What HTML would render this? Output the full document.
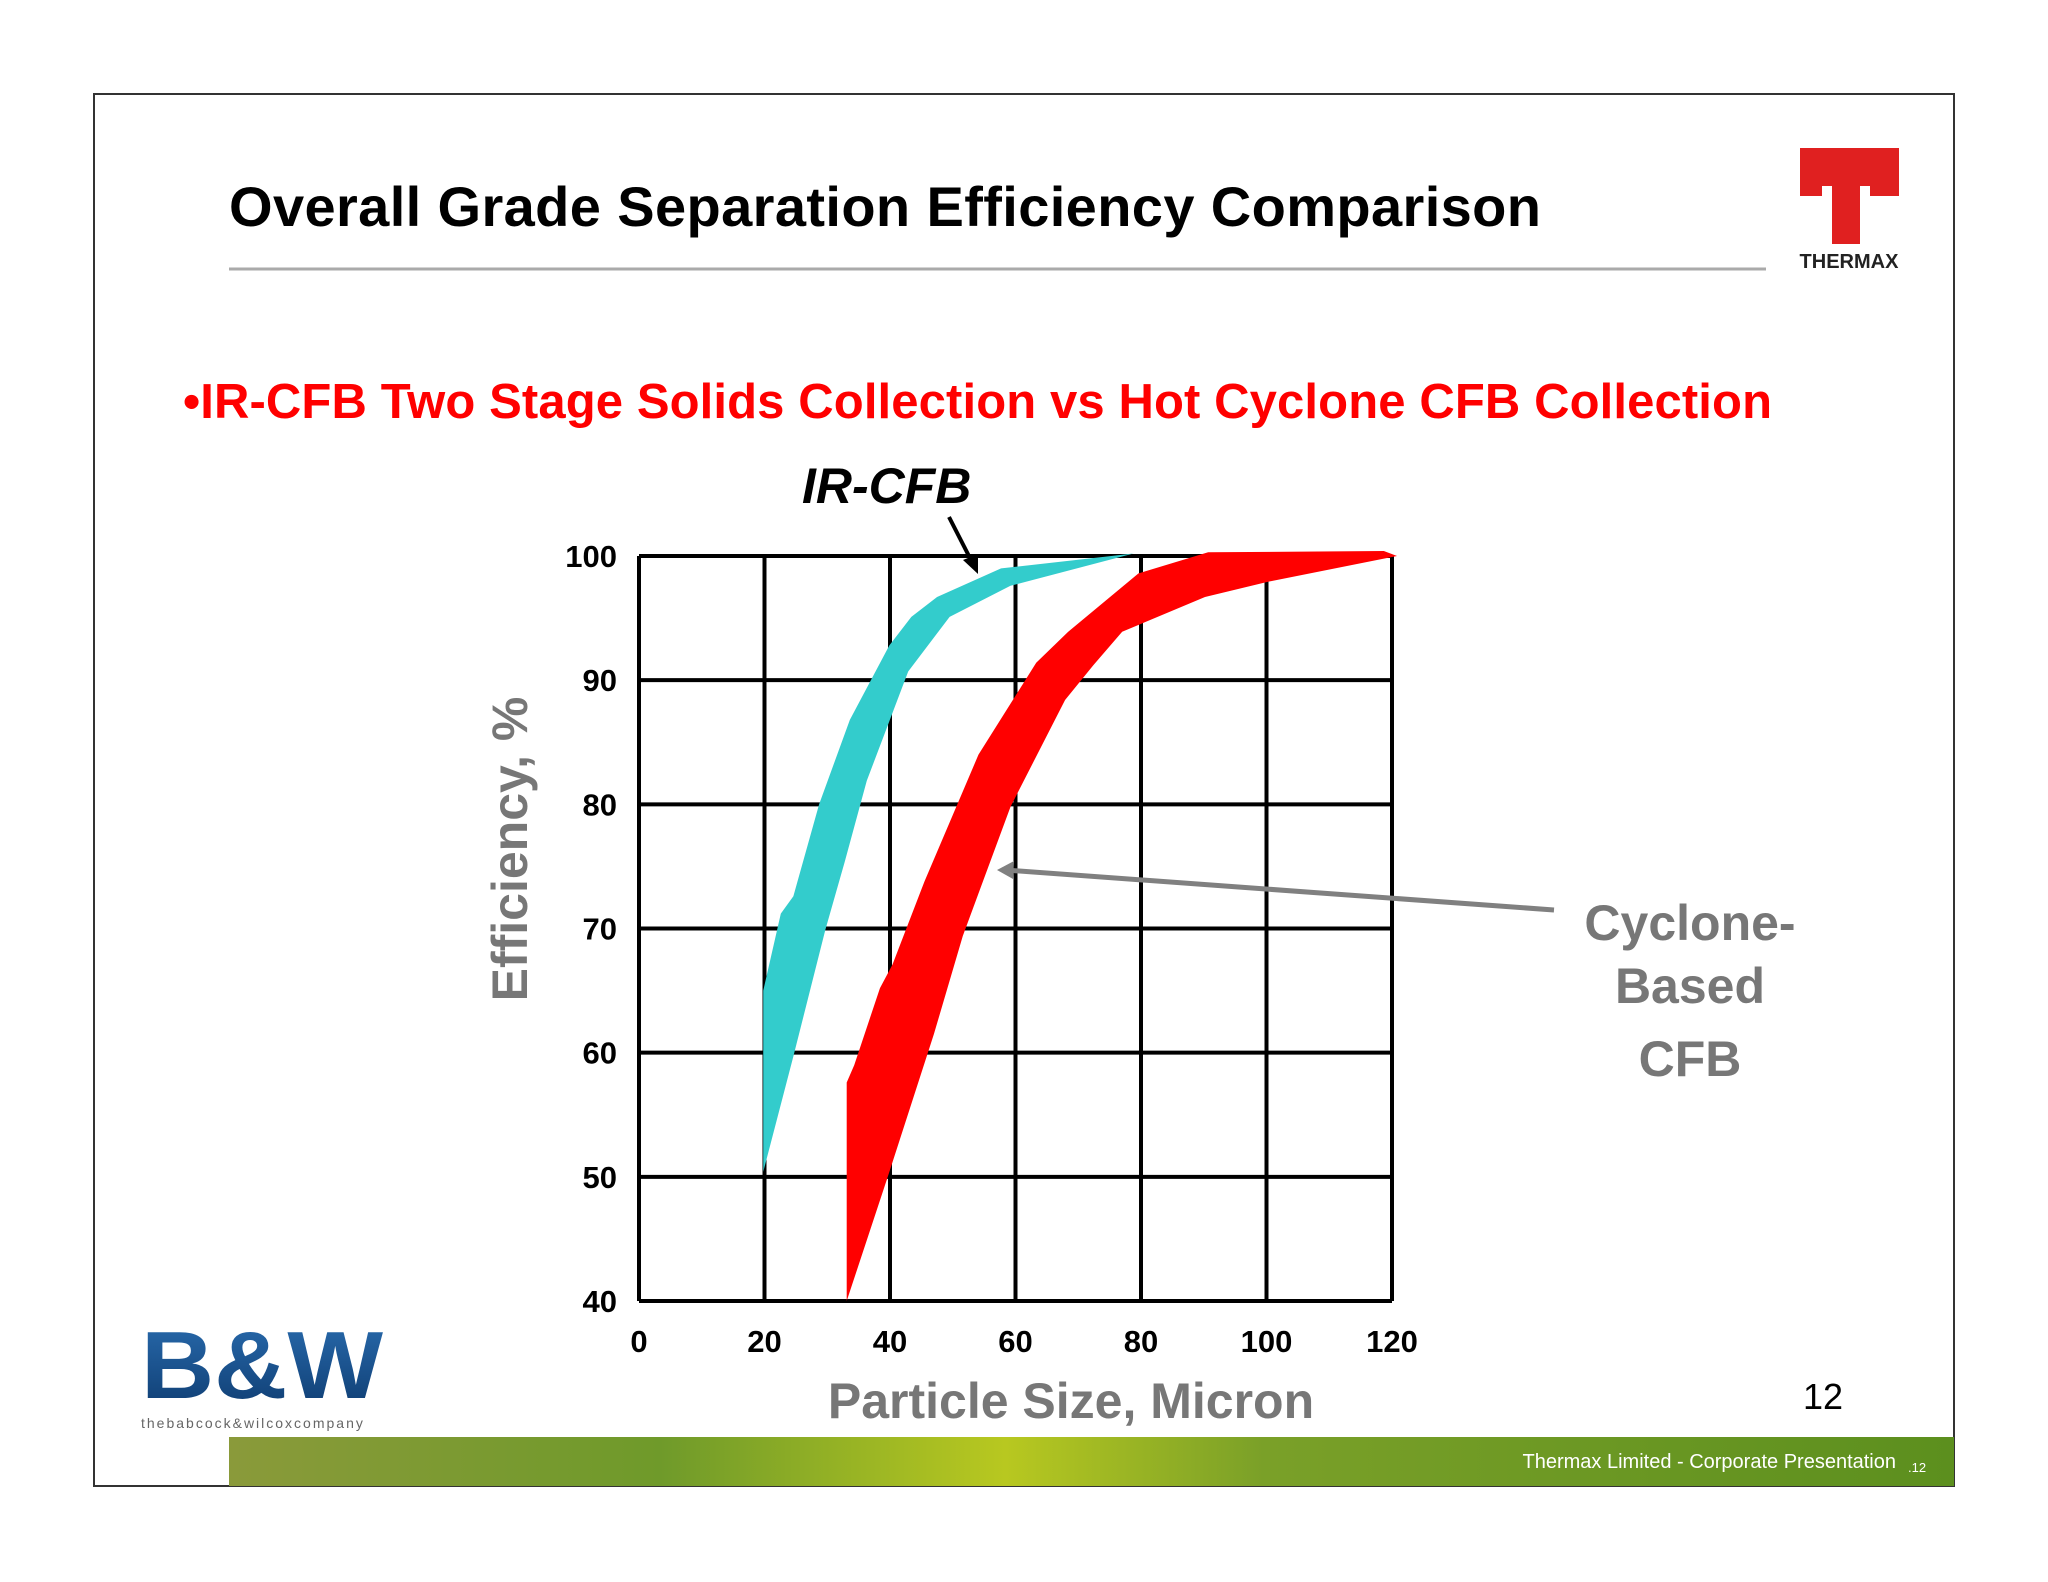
<!DOCTYPE html>
<html><head><meta charset="utf-8"><style>
html,body{margin:0;padding:0;background:#fff}
svg{display:block;font-family:"Liberation Sans",Arial,sans-serif}
</style></head><body>
<svg width="2048" height="1582" viewBox="0 0 2048 1582">
<defs>
<linearGradient id="band" x1="0" x2="1" y1="0" y2="0">
<stop offset="0" stop-color="#8a9a3a"/><stop offset="0.25" stop-color="#6f9a2a"/><stop offset="0.45" stop-color="#b8c820"/><stop offset="0.6" stop-color="#7aa028"/><stop offset="1" stop-color="#5c8f1e"/>
</linearGradient>
<linearGradient id="bw" x1="0" x2="0" y1="0" y2="1"><stop offset="0" stop-color="#2a6db0"/><stop offset="1" stop-color="#0d3a6e"/></linearGradient>
</defs>
<rect x="94" y="94" width="1860" height="1392" fill="#fff" stroke="#333" stroke-width="2"/>
<text x="229" y="226" font-size="56" font-weight="bold" fill="#000" textLength="1312">Overall Grade Separation Efficiency Comparison</text>
<line x1="229" y1="269" x2="1766" y2="269" stroke="#aaa" stroke-width="3"/>
<g>
<rect x="1800" y="148" width="99" height="38" fill="#e02020"/>
<rect x="1832" y="148" width="28" height="96" fill="#e02020"/>
<rect x="1800" y="148" width="22" height="48" fill="#e02020"/>
<rect x="1870" y="148" width="29" height="48" fill="#e02020"/>
<text x="1849" y="268" font-size="20" font-weight="bold" text-anchor="middle" fill="#222">THERMAX</text>
</g>
<text x="183" y="418" font-size="49" font-weight="bold" fill="#f00" textLength="1589">•IR-CFB Two Stage Solids Collection vs Hot Cyclone CFB Collection</text>
<text x="802" y="503" font-size="50" font-weight="bold" font-style="italic" fill="#000">IR-CFB</text>
<g id="chart"></g>
<text transform="translate(527,849) rotate(-90)" font-size="50" font-weight="bold" fill="#777" text-anchor="middle">Efficiency, %</text>
<text x="1071" y="1418" font-size="50" font-weight="bold" fill="#777" text-anchor="middle">Particle Size, Micron</text>
<g font-size="50" font-weight="bold" fill="#777" text-anchor="middle">
<text x="1690" y="940">Cyclone-</text><text x="1690" y="1003">Based</text><text x="1690" y="1076">CFB</text>
</g>
<line x1="1554" y1="910" x2="1005" y2="870" stroke="#808080" stroke-width="5"/>
<polygon points="997,870 1014,861 1013,879" fill="#808080"/>
<line x1="949" y1="517" x2="972" y2="562" stroke="#000" stroke-width="4"/>
<polygon points="978,574 963,560 978,554" fill="#000"/>
<g>
<text x="141" y="1398" font-size="96" font-weight="900" fill="url(#bw)" textLength="242" lengthAdjust="spacingAndGlyphs">B&amp;W</text>
<text x="141" y="1428" font-size="14" fill="#666" letter-spacing="2">thebabcock&amp;wilcoxcompany</text>
</g>
<text x="1823" y="1409" font-size="36" text-anchor="middle" fill="#000">12</text>
<rect x="229" y="1437" width="1725" height="49" fill="url(#band)"/>
<text x="1896" y="1468" font-size="20" fill="#fff" text-anchor="end">Thermax Limited - Corporate Presentation</text>
<text x="1908" y="1472" font-size="13" fill="#fff">.12</text>
</svg>
<script>
const xTicks=[0,20,40,60,80,100,120];
const yTicks=[40,50,60,70,80,90,100];
const cyanUpperX=[19.8,19.8,22.6,24.6,28.7,33.6,39.9,43.4,47.5,57.7,78.8];
const cyanUpperY=[50.4,65,71.2,72.6,80,86.8,92.8,95.1,96.7,99,100.2];
const cyanLowerX=[19.8,24.6,29.7,32.8,36.3,42.9,49.5,59.2,78.8];
const cyanLowerY=[50.4,59.7,69.9,75.4,81.9,90.7,95.1,97.6,100.2];
const redUpperX=[33.1,33.1,34.3,38.4,40.4,45.5,54.1,63.3,68.4,79.6,90.7,118.7];
const redUpperY=[40,57.6,59,65.2,67.1,73.8,84,91.4,93.9,98.6,100.3,100.4];
const redLowerX=[33.1,39.9,47,51.6,59.2,67.9,72.4,77,90.2,100,120.8];
const redLowerY=[40,50.4,61.5,69.4,79.8,88.4,91.2,93.9,96.7,97.9,100];
const X0=639,X1=1392,Y0=1301,Y1=556;
const sx=v=>X0+(v-0)/(120-0)*(X1-X0);
const sy=v=>Y0-(v-40)/(100-40)*(Y0-Y1);
const NS="http://www.w3.org/2000/svg";
const g=document.getElementById('chart');
function mk(t,a){const e=document.createElementNS(NS,t);for(const k in a)e.setAttribute(k,a[k]);g.appendChild(e);return e;}
function band(ux,uy,lx,ly,color,name){
  const pts=[];
  for(let i=0;i<ux.length;i++)pts.push(sx(ux[i])+','+sy(uy[i]));
  for(let i=lx.length-1;i>=0;i--)pts.push(sx(lx[i])+','+sy(ly[i]));
  const p=mk('polygon',{points:pts.join(' '),fill:color});
  
  
}
xTicks.forEach(t=>{
  const l=mk('line',{x1:sx(t),x2:sx(t),y1:sy(100),y2:sy(40),stroke:'#000','stroke-width':4});
  
  
  const tx=mk('text',{x:sx(t),y:1352,'font-size':31,'font-weight':'bold','text-anchor':'middle',fill:'#000'});
  tx.textContent=t;
  
  
});
yTicks.forEach(t=>{
  const l=mk('line',{x1:sx(0),x2:sx(120),y1:sy(t),y2:sy(t),stroke:'#000','stroke-width':4});
  
  
  const tx=mk('text',{x:617,y:sy(t)+11,'font-size':31,'font-weight':'bold','text-anchor':'end',fill:'#000'});
  tx.textContent=t;
  
  
});
band(cyanUpperX,cyanUpperY,cyanLowerX,cyanLowerY,'#33cccc','ir-cfb-band');
band(redUpperX,redUpperY,redLowerX,redLowerY,'#ff0000','cyclone-cfb-band');
</script>
</body></html>
